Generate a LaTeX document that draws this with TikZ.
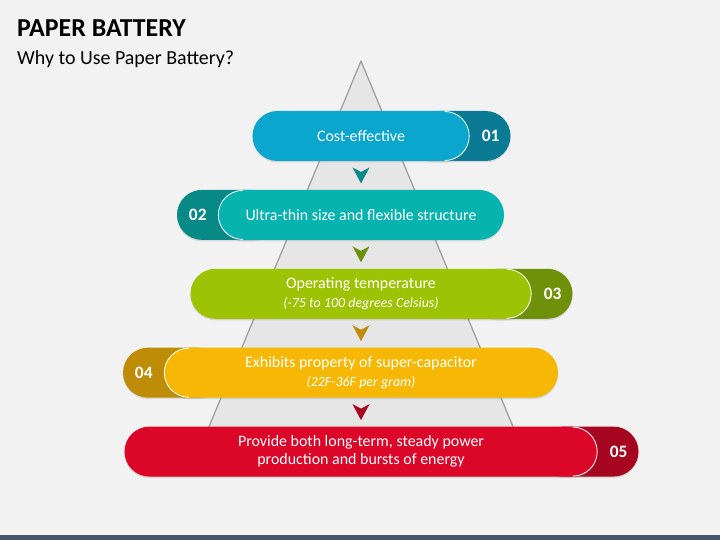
\documentclass[tikz,border=0pt]{standalone}
\usepackage{fontspec}
\setmainfont{Carlito}
\usetikzlibrary{shapes.misc,
                positioning,
                calc,
                shadows,
                backgrounds}

\definecolor{canvas}{HTML}{F2F2F2}
\definecolor{pyrfill}{HTML}{E6E6E6}
\definecolor{pyrline}{HTML}{9C9C9C}
\definecolor{footbar}{HTML}{44546A}
\definecolor{blue1}{HTML}{0AA6CD}
\definecolor{blue1dk}{HTML}{0B7B95}
\definecolor{teal2}{HTML}{06B3AE}
\definecolor{teal2dk}{HTML}{078985}
\definecolor{green3}{HTML}{9DC304}
\definecolor{green3dk}{HTML}{6F910A}
\definecolor{gold4}{HTML}{F6B805}
\definecolor{gold4dk}{HTML}{BF8C07}
\definecolor{red5}{HTML}{DB0628}
\definecolor{red5dk}{HTML}{A6061F}

\tikzset{block/.style=
   {rounded rectangle,
    text=white,
    text centered,
    align=center,
    minimum height=50bp,
    inner sep=0pt,
    font=\fontsize{16}{18.5}\selectfont,
    drop shadow={opacity=0.25, shadow xshift=0bp, shadow yshift=-1.5bp}}}
\tikzset{tab/.style=
   {rounded rectangle,
    minimum width=100bp,
    minimum height=50bp,
    inner sep=0pt,
    drop shadow={opacity=0.2, shadow xshift=0bp, shadow yshift=-1.5bp}}}
\tikzset{num/.style = {text=white, font=\fontsize{17.5}{20}\selectfont\bfseries}}
\tikzset{rim/.style = {draw=white, line width=0.8bp}}
\tikzset{pyramid/.style = {fill=pyrfill, draw=pyrline, line width=1.2bp, line join=round}}
\tikzset{pics/pointer/.style = {code = {\fill [#1] (-8.5,8) -- (0,-8) -- (8.5,8) -- (0,3.5) -- cycle;}}}

\begin{document}
\begin{tikzpicture}[x=1bp, y=1bp]

    % Canvas and pyramid
    \begin{pgfonlayer}{background}
    \fill [canvas] (0,0) rectangle (720,540);
    \fill [footbar] (0,0) rectangle (720,5);
    \draw [pyramid] (361,479) -- (531,70) -- (191,70) -- cycle;
    \end{pgfonlayer}
    \useasboundingbox (0,0) rectangle (720,540);

    % Title
    \node [anchor=base west, inner sep=0pt, font=\fontsize{26}{30}\selectfont\bfseries] (title) at (17,503) {PAPER BATTERY};
    \node [anchor=base west, inner sep=0pt, font=\fontsize{20}{24}\selectfont] (subtitle) at (17,475) {Why to Use Paper Battery?};

    % Blocks
    \node [block, fill=blue1, minimum width=217bp] (reason1) at (361,404) {Cost-effective};
    \node [block, fill=teal2, minimum width=286bp, below=28.5bp of reason1] (reason2) {Ultra-thin size and flexible structure};
    \node [block, fill=green3, minimum width=341bp, below=28.5bp of reason2] (reason3)
          {Operating temperature\\{\itshape\fontsize{14}{17}\selectfont (-75 to 100 degrees Celsius)}};
    \node [block, fill=gold4, minimum width=394bp, below=28.5bp of reason3] (reason4)
          {Exhibits property of super-capacitor\\{\itshape\fontsize{14}{17}\selectfont (22F-36F per gram)}};
    \node [block, fill=red5, minimum width=473bp, below=28.5bp of reason4] (reason5)
          {Provide both long-term, steady power\\production and bursts of energy};

    % Tabs
    \begin{pgfonlayer}{background}
    \node [tab, fill=blue1dk, anchor=east] (tab1) at ([xshift=41bp]reason1.east) {};
    \node [tab, fill=teal2dk, anchor=west] (tab2) at ([xshift=-41bp]reason2.west) {};
    \node [tab, fill=green3dk, anchor=east] (tab3) at ([xshift=41bp]reason3.east) {};
    \node [tab, fill=gold4dk, anchor=west] (tab4) at ([xshift=-41bp]reason4.west) {};
    \node [tab, fill=red5dk, anchor=east] (tab5) at ([xshift=41bp]reason5.east) {};
    \end{pgfonlayer}

    % Rims
    \draw [rim] ([xshift=-25bp, yshift=24.5bp]reason1.east) arc (90:-90:24.5bp);
    \draw [rim] ([xshift=25bp, yshift=24.5bp]reason2.west) arc (90:270:24.5bp);
    \draw [rim] ([xshift=-25bp, yshift=24.5bp]reason3.east) arc (90:-90:24.5bp);
    \draw [rim] ([xshift=25bp, yshift=24.5bp]reason4.west) arc (90:270:24.5bp);
    \draw [rim] ([xshift=-25bp, yshift=24.5bp]reason5.east) arc (90:-90:24.5bp);

    % Numbers
    \node [num] (num1) at ([xshift=21bp]reason1.east) {01};
    \node [num] (num2) at ([xshift=-20bp]reason2.west) {02};
    \node [num] (num3) at ([xshift=21bp]reason3.east) {03};
    \node [num] (num4) at ([xshift=-20bp]reason4.west) {04};
    \node [num] (num5) at ([xshift=21bp]reason5.east) {05};

    % Pointers
    \pic at ($(reason1.south)!0.5!(reason2.north)$) {pointer=teal2dk};
    \pic at ($(reason2.south)!0.5!(reason3.north)$) {pointer=green3dk};
    \pic at ($(reason3.south)!0.5!(reason4.north)$) {pointer=gold4dk};
    \pic at ($(reason4.south)!0.5!(reason5.north)$) {pointer=red5dk};

\end{tikzpicture}
\end{document}
